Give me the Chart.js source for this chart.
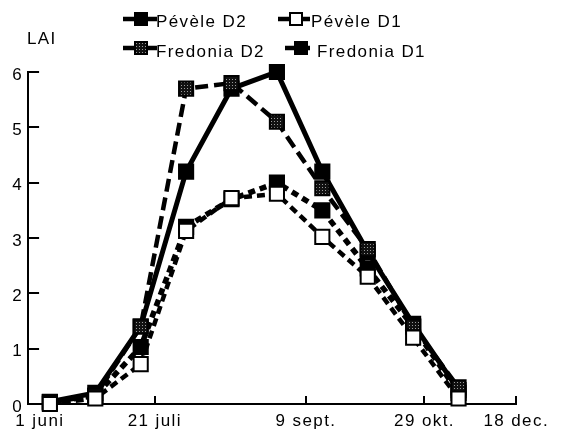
<!DOCTYPE html>
<html>
<head>
<meta charset="utf-8">
<script src="https://cdn.jsdelivr.net/npm/chart.js@4/dist/chart.umd.min.js"></script>
<style>
  html, body { margin: 0; padding: 0; background: #fff; }
  canvas { display: block; }
</style>
</head>
<body>
<canvas id="lai" width="564" height="433"></canvas>
<script>
// Sampling rounds, evenly spaced along the season axis
const samples   = [0, 1, 2, 3, 4, 5, 6, 7, 8, 9];
const pevele2   = [0.04, 0.2, 1.4, 4.2, 5.7, 6.0, 4.2, 2.75, 1.45, 0.25];
const fredonia2 = [0.03, 0.15, 1.4, 5.7, 5.8, 5.1, 3.9, 2.8, 1.4, 0.3];
const pevele1   = [0.0, 0.1, 0.72, 3.13, 3.72, 3.8, 3.02, 2.3, 1.2, 0.1];
const fredonia1 = [0.03, 0.15, 1.03, 3.2, 3.7, 4.0, 3.5, 2.45, 1.4, 0.2];

// date ticks sit at their own places on the sampling axis
const dateTicks  = [-0.22, 2.31, 5.64, 8.25, 10.27];
const dateLabels = ['1 juni', '21 juli', '9 sept.', '29 okt.', '18 dec.'];
const laiTicks   = [0, 1, 2, 3, 4, 5, 6];

const FONT = "'Liberation Sans', Arial, Helvetica, sans-serif";
const SPACING = '1.4px';
Chart.defaults.font.family = FONT;
Chart.defaults.font.size = 17;
Chart.defaults.color = '#000';

const canvas = document.getElementById('lai');
const ctx = canvas.getContext('2d');

// dark stipple used for the Fredonia D2 markers
function stipple() {
  const c = document.createElement('canvas');
  c.width = c.height = 3;
  const g = c.getContext('2d');
  g.fillStyle = '#111';
  g.fillRect(0, 0, 3, 3);
  g.fillStyle = '#9a9a9a';
  g.fillRect(1, 1, 1, 1);
  return ctx.createPattern(c, 'repeat');
}
const dots = stipple();

const series = (label, values, extra) => ({
  label,
  data: values.map((y, i) => ({ x: samples[i], y })),
  borderColor: '#000',
  borderWidth: 4.5,
  tension: 0,
  pointStyle: 'rect',
  pointRadius: 10,
  pointHoverRadius: 10,
  pointBorderColor: '#000',
  pointBorderWidth: 2,
  pointBackgroundColor: '#000',
  clip: false,
  ...extra
});

// first dataset is painted last (on top)
const datasets = [
  series('Pévèle D1',   pevele1,   { borderDash: [8, 5], pointBackgroundColor: '#fff' }),
  series('Fredonia D2', fredonia2, { borderDash: [13, 6], pointBackgroundColor: dots }),
  series('Fredonia D1', fredonia1, { borderDash: [7, 5], borderWidth: 5.5 }),
  series('Pévèle D2',   pevele2,   { borderWidth: 5 })
];

// legend: two rows, short line with a marker, then the name
const legendRows = [
  { ds: 3, x0: 123, x1: 157, mx: 141, tx: 156, y: 19, base: 27 },
  { ds: 0, x0: 278, x1: 310, mx: 296, tx: 311, y: 19, base: 27 },
  { ds: 1, x0: 123, x1: 157, mx: 141, tx: 156, y: 48, base: 57 },
  { ds: 2, x0: 285, x1: 310, mx: 301, tx: 317, y: 48, base: 57 }
];

const spacing = {
  id: 'spacing',
  beforeUpdate(chart) { chart.ctx.letterSpacing = SPACING; },
  beforeDraw(chart) { chart.ctx.letterSpacing = SPACING; }
};

const legendAndTitle = {
  id: 'legendAndTitle',
  afterDraw(chart) {
    const c = chart.ctx;
    c.save();
    c.letterSpacing = SPACING;
    c.fillStyle = '#000';
    c.font = '17px ' + FONT;
    c.textBaseline = 'alphabetic';
    c.fillText('LAI', 27, 44);
    legendRows.forEach(r => {
      const d = chart.data.datasets[r.ds];
      c.strokeStyle = '#000';
      c.lineWidth = 4.5;
      c.setLineDash([]);
      c.beginPath();
      c.moveTo(r.x0, r.y);
      c.lineTo(r.x1, r.y);
      c.stroke();
      c.fillStyle = d.pointBackgroundColor;
      c.fillRect(r.mx - 6, r.y - 6, 12, 12);
      c.lineWidth = 2;
      c.strokeRect(r.mx - 6, r.y - 6, 12, 12);
      c.fillStyle = '#000';
      c.fillText(d.label, r.tx, r.base);
    });
    c.restore();
  }
};

new Chart(canvas, {
  type: 'line',
  data: { datasets },
  options: {
    responsive: false,
    animation: false,
    events: [],
    layout: { padding: { top: 72, right: 35, left: 0, bottom: 0 } },
    plugins: { legend: { display: false }, tooltip: { enabled: false } },
    scales: {
      x: {
        type: 'linear',
        min: -0.48,
        max: 10.27,
        afterFit: s => { s.height = 29; },
        afterBuildTicks: s => { s.ticks = dateTicks.map(v => ({ value: v })); },
        grid: {
          drawOnChartArea: false,
          tickLength: -8,
          lineWidth: 2,
          color: c => (c.index === 0 ? 'rgba(0,0,0,0)' : '#000')
        },
        border: { color: '#000', width: 2 },
        ticks: {
          autoSkip: false,
          maxRotation: 0,
          padding: 15,
          color: '#000',
          callback: (v, i) => dateLabels[i]
        }
      },
      y: {
        min: 0,
        max: 6,
        afterFit: s => { s.width = 28; },
        afterBuildTicks: s => { s.ticks = laiTicks.map(v => ({ value: v })); },
        grid: { drawOnChartArea: false, tickLength: -11, lineWidth: 2, color: '#000' },
        border: { color: '#000', width: 2 },
        ticks: { padding: 16, labelOffset: 3, color: '#000' }
      }
    }
  },
  plugins: [spacing, legendAndTitle]
});
</script>
</body>
</html>
